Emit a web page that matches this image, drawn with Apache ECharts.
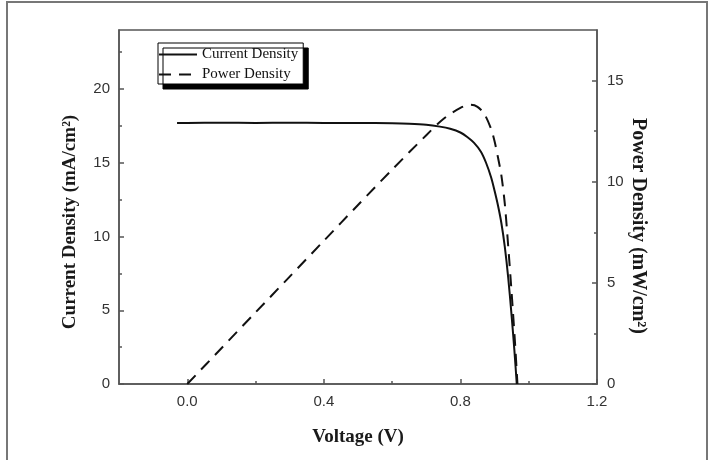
<!DOCTYPE html>
<html>
<head>
<meta charset="utf-8">
<script src="https://cdn.jsdelivr.net/npm/echarts@6/dist/echarts.min.js"></script>
<style>
  html, body { margin: 0; padding: 0; background: #fff; }
  #chart { width: 717px; height: 460px; }
</style>
</head>
<body>
<div id="chart"></div>
<script>
// J-V curve (voltage in V, current density in mA/cm2)
const voltageJ = [-0.03, 0, 0.1, 0.2, 0.3, 0.4, 0.5, 0.6, 0.65, 0.7, 0.74, 0.77, 0.8, 0.82, 0.84, 0.86, 0.875, 0.89, 0.9, 0.91, 0.92, 0.93, 0.94, 0.95, 0.958, 0.965];
const currentJ = [17.7, 17.7, 17.72, 17.7, 17.71, 17.7, 17.7, 17.68, 17.65, 17.58, 17.45, 17.3, 17.05, 16.75, 16.35, 15.75, 15.0, 14.0, 13.1, 12.1, 10.9, 9.3, 7.2, 4.6, 2.3, 0];

// P-V curve (power density in mW/cm2)
const voltageP = [0, 0.1, 0.2, 0.3, 0.4, 0.5, 0.6, 0.7, 0.75, 0.8, 0.83, 0.85, 0.87, 0.89, 0.9, 0.91, 0.92, 0.93, 0.94, 0.95, 0.96, 0.967];
const powerP = [0, 1.77, 3.54, 5.31, 7.08, 8.85, 10.6, 12.3, 13.1, 13.65, 13.8, 13.7, 13.35, 12.6, 12.0, 11.2, 10.3, 8.9, 6.8, 4.5, 2.0, 0];

// ticks
const xMajor = [0, 0.4, 0.8, 1.2];
const xMinor = [0.2, 0.6, 1.0];
const yLeftMajor = [0, 5, 10, 15, 20];
const yLeftMinor = [2.5, 7.5, 12.5, 17.5, 22.5];
const yRightMajor = [0, 5, 10, 15];
const yRightMinor = [2.5, 7.5, 12.5];

const axisColor = '#555';
const labelStyle = { color: '#333', fontSize: 15, fontFamily: 'Liberation Sans, Arial, sans-serif' };
const nameStyle = { color: '#1a1a1a', fontSize: 19, fontWeight: 'bold', fontFamily: 'Liberation Serif, Times New Roman, serif' };

const chart = echarts.init(document.getElementById('chart'));

// 次刻度轴（只画短刻度）
const minorAxis = (base, values) => Object.assign({}, base, {
  name: '',
  axisLine: { show: false, onZero: false },
  axisLabel: { show: false },
  splitLine: { show: false },
  axisTick: { show: true, inside: true, length: 3, customValues: values, lineStyle: { color: axisColor, width: 1.5 } }
});

const xBase = { type: 'value', position: 'bottom', min: -0.2, max: 1.2 };
const yLeftBase = { type: 'value', position: 'left', min: 0, max: 24 };
const yRightBase = { type: 'value', position: 'right', min: 0, max: 17.5 };

const option = {
  backgroundColor: '#fff',
  animation: false,
  graphic: [
    { // 外框
      type: 'rect',
      shape: { x: 7, y: 2, width: 700, height: 480 },
      style: { fill: 'none', stroke: '#777', lineWidth: 2 },
      silent: true
    }
  ],
  grid: {
    left: 119, right: 120, top: 30, bottom: 76,
    show: true,
    borderColor: axisColor,
    borderWidth: 1.5
  },
  legend: {
    orient: 'vertical',
    left: 158,
    top: 43,
    padding: [4, 5, 2, 0],
    itemGap: 5,
    itemWidth: 38,
    itemHeight: 14,
    backgroundColor: '#fff',
    borderColor: '#000',
    borderWidth: 1,
    shadowColor: '#000',
    shadowBlur: 0,
    shadowOffsetX: 5,
    shadowOffsetY: 5,
    itemStyle: { opacity: 0 },
    textStyle: { color: '#111', fontSize: 15, lineHeight: 15, fontFamily: 'Liberation Serif, Times New Roman, serif' },
    data: ['Current Density', 'Power Density']
  },
  xAxis: [
    Object.assign({}, xBase, {
      name: 'Voltage (V)',
      nameLocation: 'middle',
      nameGap: 44,
      nameTextStyle: nameStyle,
      axisLine: { show: true, onZero: false, lineStyle: { color: axisColor, width: 1.5 } },
      axisTick: { show: true, inside: true, length: 5, customValues: xMajor, lineStyle: { color: axisColor, width: 1.5 } },
      axisLabel: { customValues: xMajor, margin: 10, formatter: v => v.toFixed(1), ...labelStyle },
      splitLine: { show: false }
    }),
    minorAxis(xBase, xMinor)
  ],
  yAxis: [
    Object.assign({}, yLeftBase, {
      name: 'Current Density (mA/cm²)',
      nameLocation: 'middle',
      nameGap: 39,
      nameTextStyle: Object.assign({ padding: [0, 30, 0, 0] }, nameStyle),
      axisLine: { show: true, onZero: false, lineStyle: { color: axisColor, width: 1.5 } },
      axisTick: { show: true, inside: true, length: 5, customValues: yLeftMajor, lineStyle: { color: axisColor, width: 1.5 } },
      axisLabel: { customValues: yLeftMajor, margin: 9, ...labelStyle },
      splitLine: { show: false }
    }),
    minorAxis(yLeftBase, yLeftMinor),
    Object.assign({}, yRightBase, {
      name: 'Power Density (mW/cm²)',
      nameLocation: 'middle',
      nameGap: 31,
      nameRotate: -90,
      nameMoveOverlap: false,
      nameTextStyle: Object.assign({ padding: [0, 0, 0, 38] }, nameStyle, { fontSize: 20 }),
      axisLine: { show: true, onZero: false, lineStyle: { color: axisColor, width: 1.5 } },
      axisTick: { show: true, inside: true, length: 5, customValues: yRightMajor, lineStyle: { color: axisColor, width: 1.5 } },
      axisLabel: { customValues: yRightMajor, margin: 10, ...labelStyle },
      splitLine: { show: false }
    }),
    minorAxis(yRightBase, yRightMinor)
  ],
  series: [
    {
      name: 'Current Density',
      type: 'line',
      xAxisIndex: 0,
      yAxisIndex: 0,
      symbol: 'none',
      smooth: 0.3,
      lineStyle: { color: '#111', width: 2, type: 'solid' },
      itemStyle: { color: '#111' },
      data: voltageJ.map((v, i) => [v, currentJ[i]])
    },
    {
      name: 'Power Density',
      type: 'line',
      xAxisIndex: 0,
      yAxisIndex: 2,
      symbol: 'none',
      smooth: 0.3,
      lineStyle: { color: '#111', width: 2, type: [12, 8] },
      itemStyle: { color: '#111' },
      data: voltageP.map((v, i) => [v, powerP[i]])
    }
  ]
};

chart.setOption(option);
</script>
</body>
</html>
